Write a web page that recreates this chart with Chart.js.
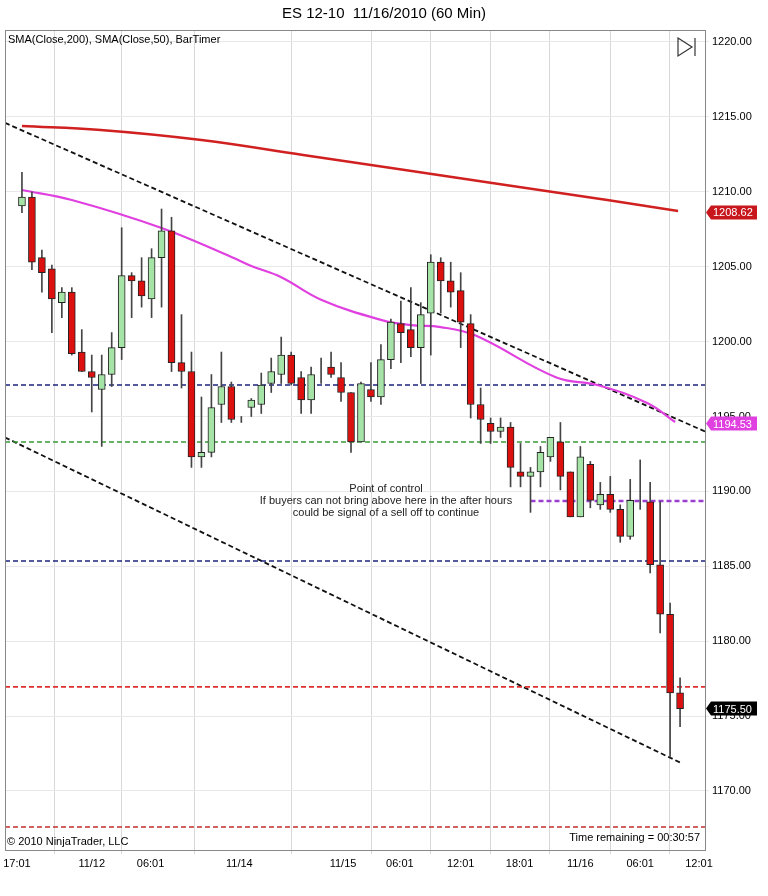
<!DOCTYPE html>
<html>
<head>
<meta charset="utf-8">
<script src="https://cdn.jsdelivr.net/npm/chart.js@4.4.0/dist/chart.umd.min.js"></script>
<style>
  html, body { margin: 0; padding: 0; background: #fff; }
  #wrap { width: 768px; height: 896px; }
</style>
</head>
<body>
<div id="wrap"><canvas id="chart" width="768" height="896"></canvas></div>
<script>
// candles: open, high, low, close (60 min bars, index = bar number)
const opens  = [1209.05,1209.65,1205.6,1204.85,1202.6,1203.3,1199.3,1198.0,1196.8,1197.8,1199.6,1204.4,1204.05,1202.85,1205.6,1207.4,1198.6,1198.0,1192.3,1192.6,1195.8,1197.0,
                1194.8,1195.6,1195.8,1197.2,1197.8,1199.1,1197.6,1196.1,1198.0,1198.3,1197.6,1196.6,1193.3,1196.8,1196.3,1198.8,1201.2,1200.8,1199.6,1201.9,1205.3,1204.05,1203.4,
                1201.2,1195.8,1194.55,1194.0,1194.3,1191.3,1191.0,1191.3,1192.3,1193.3,1191.3,1188.3,1191.8,1189.1,1189.8,1188.8,1187.0,1189.2,1189.3,1185.1,1181.8,1176.55];
const highs  = [1211.3,1210.0,1206.1,1205.1,1203.6,1203.6,1200.8,1199.1,1199.1,1200.6,1207.6,1204.6,1205.6,1206.2,1208.85,1208.3,1201.8,1199.3,1196.3,1197.8,1199.3,1197.3,
                1195.0,1196.2,1197.9,1198.9,1200.3,1199.3,1198.0,1198.3,1198.9,1199.3,1198.6,1196.6,1197.3,1198.6,1199.8,1201.5,1202.7,1203.6,1202.6,1205.8,1205.6,1205.3,1204.6,
                1201.8,1196.9,1194.9,1194.9,1194.6,1193.2,1191.6,1193.0,1193.6,1194.6,1191.3,1193.0,1192.0,1190.6,1191.0,1189.1,1190.8,1192.1,1190.6,1189.3,1182.55,1177.55];
const lows   = [1208.6,1204.8,1203.3,1200.6,1201.6,1199.1,1198.0,1195.3,1193.0,1197.0,1198.8,1201.6,1202.3,1201.6,1202.3,1198.0,1196.9,1191.6,1191.6,1192.3,1194.6,1194.6,
                1194.6,1195.0,1195.2,1196.6,1197.2,1197.1,1195.2,1195.2,1197.2,1197.6,1196.0,1192.6,1193.3,1196.0,1195.8,1198.2,1198.6,1199.0,1197.2,1199.1,1201.9,1202.3,1199.6,
                1194.9,1193.2,1193.2,1193.6,1190.3,1190.3,1188.6,1190.3,1192.0,1190.1,1188.3,1188.3,1188.9,1188.8,1188.6,1186.6,1186.8,1188.8,1184.55,1180.55,1172.3,1174.3];
const closes = [1209.65,1205.3,1204.6,1202.85,1203.3,1199.2,1198.0,1197.6,1197.8,1199.6,1204.4,1204.05,1203.05,1205.6,1207.4,1198.6,1198.0,1192.3,1192.6,1195.6,1197.0,1194.8,
                1194.8,1196.1,1197.1,1198.0,1199.1,1197.2,1196.1,1197.8,1198.0,1197.8,1196.6,1193.3,1197.2,1196.3,1198.8,1201.3,1200.6,1199.6,1201.8,1205.3,1204.05,1203.3,1201.3,
                1195.8,1194.8,1194.0,1194.3,1191.6,1191.0,1191.3,1192.6,1193.6,1191.0,1188.3,1192.3,1189.4,1189.8,1188.8,1187.0,1189.4,1189.2,1185.1,1181.8,1176.55,1175.5];

// moving averages: [bar index, price]
const sma200 = [[0,1214.39],[7.9,1214.13],[18,1213.46],[28.2,1212.46],[38.4,1211.46],[48.5,1210.45],[58.7,1209.45],[65.8,1208.72]];
const sma50  = [[0,1210.12],[5,1209.45],[14,1207.58],[21,1205.65],[23,1205.05],[26,1204.3],[30,1202.8],[36,1201.45],[39,1201.1],
                [42,1200.97],[45.5,1200.4],[53.6,1197.6],[57.7,1197.1],[62.7,1195.9],[65.5,1194.63]];

// time axis labels and their bar positions
const timeTicks  = [-0.5, 7.0, 12.9, 21.8, 32.2, 37.9, 44.0, 49.9, 56.0, 62.0, 67.9];
const timeLabels = ['17:01','11/12','06:01','11/14','11/15','06:01','12:01','18:01','11/16','06:01','12:01'];

// drawn levels
const levelBlue1 = 1197.1, levelGreen = 1193.3, levelBlue2 = 1185.35, levelRed1 = 1176.95, levelRed2 = 1167.6, levelPoc = 1189.35;
const trendTop = [[-1.7,1214.6],[68.5,1194.0]];
const trendLow = [[-1.7,1193.6],[66.0,1171.9]];

const idx = opens.map((_, i) => i);
const up = idx.map(i => closes[i] >= opens[i]);

const xy = arr => arr.map(p => ({x: p[0], y: p[1]}));
const hline = (v, x0, x1) => [{x: x0, y: v}, {x: x1, y: v}];
const dashed = (data, color, w) => ({type: 'line', data: data, borderColor: color, borderWidth: w || 1.6,
    borderDash: [5, 3], pointRadius: 0, fill: false, tension: 0, order: 5});

const overlay = {
    id: 'overlay',
    afterDraw(chart) {
        const c = chart.ctx, a = chart.chartArea, ys = chart.scales.y;
        c.save();
        c.strokeStyle = '#888'; c.lineWidth = 1;
        c.strokeRect(a.left + 0.5, a.top + 0.5, a.right - a.left, a.bottom - a.top);
        c.fillStyle = '#000';
        c.font = '15px "Liberation Sans", Arial';
        c.textAlign = 'center';
        c.fillText('ES 12-10  11/16/2010 (60 Min)', 384, 18);
        c.font = '11px "Liberation Sans", Arial';
        c.textAlign = 'left';
        c.fillText('SMA(Close,200), SMA(Close,50), BarTimer', a.left + 3, a.top + 13);
        c.fillText('\u00a9 2010 NinjaTrader, LLC', a.left + 2, a.bottom - 5);
        c.textAlign = 'right';
        c.fillText('Time remaining = 00:30:57', a.right - 5, a.bottom - 9);
        c.textAlign = 'center';
        c.fillStyle = '#222';
        c.fillText('Point of control', 386, 492);
        c.fillText('If buyers can not bring above here in the after hours', 386, 504);
        c.fillText('could be signal of a sell off to continue', 386, 516);
        // play/stop icon
        c.strokeStyle = '#333'; c.lineWidth = 1.2;
        c.beginPath(); c.moveTo(678, 38); c.lineTo(692, 47); c.lineTo(678, 56); c.closePath(); c.stroke();
        c.beginPath(); c.moveTo(695, 38); c.lineTo(695, 56); c.stroke();
        // price flags on right axis
        const flags = [[1208.62, '#c8161d'], [1194.53, '#e040e0'], [1175.50, '#000']];
        c.font = '11px "Liberation Sans", Arial';
        c.textAlign = 'left';
        flags.forEach(f => {
            const y = ys.getPixelForValue(f[0]);
            c.fillStyle = f[1];
            c.beginPath();
            c.moveTo(a.right + 1, y); c.lineTo(a.right + 6, y - 7); c.lineTo(a.right + 52, y - 7);
            c.lineTo(a.right + 52, y + 7); c.lineTo(a.right + 6, y + 7); c.closePath(); c.fill();
            c.fillStyle = '#fff';
            c.fillText(f[0].toFixed(2), a.right + 8, y + 4);
        });
        c.restore();
    }
};

new Chart(document.getElementById('chart'), {
    data: {
        datasets: [
            dashed(hline(levelBlue1, -1.7, 68.5), '#1a237e'),
            dashed(hline(levelGreen, -1.7, 68.5), '#3a9a3a'),
            dashed(hline(levelBlue2, -1.7, 68.5), '#1a237e'),
            dashed(hline(levelRed1, -1.7, 68.5), '#e03030'),
            dashed(hline(levelRed2, -1.7, 68.5), '#c03030'),
            dashed(hline(levelPoc, 51, 68.5), '#9a40d0', 2.5),
            dashed(xy(trendTop), '#111', 1.8),
            dashed(xy(trendLow), '#111', 1.8),
            {type: 'line', data: xy(sma200), borderColor: '#d02020', borderWidth: 2.5, pointRadius: 0, tension: 0.4, order: 4},
            {type: 'line', data: xy(sma50), borderColor: '#e040e0', borderWidth: 2.2, pointRadius: 0, tension: 0.4, order: 4},
            {type: 'bar', data: idx.map(i => ({x: i, y: [lows[i], highs[i]]})), backgroundColor: '#444',
             barThickness: 1, grouped: false, order: 3},
            {type: 'bar', data: idx.map(i => ({x: i, y: [opens[i], closes[i]]})),
             backgroundColor: idx.map(i => up[i] ? '#a6e3a6' : '#dd1010'), borderColor: '#222', borderWidth: 1,
             borderSkipped: false, barThickness: 7, grouped: false, order: 2}
        ]
    },
    options: {
        responsive: false,
        animation: false,
        layout: {padding: {top: 30, left: 5, right: 0, bottom: 0}},
        plugins: {legend: {display: false}, tooltip: {enabled: false}},
        scales: {
            x: {
                type: 'linear', min: -1.7, max: 68.5, offset: false,
                afterBuildTicks: s => { s.ticks = timeTicks.map(v => ({value: v})); },
                afterFit: s => { s.height = 46; },
                ticks: {callback: (v, i) => timeLabels[i], color: '#000', font: {size: 11, family: '"Liberation Sans", Arial'}, maxRotation: 0, autoSkip: false},
                grid: {color: '#d8d8d8', drawTicks: true, tickLength: 4},
                border: {color: '#888'}
            },
            y: {
                position: 'right', min: 1166.06, max: 1220.8,
                afterBuildTicks: s => { const t = []; for (let v = 1170; v <= 1220; v += 5) t.push({value: v}); s.ticks = t; },
                afterFit: s => { s.width = 63; },
                ticks: {callback: v => v.toFixed(2), color: '#000', font: {size: 11, family: '"Liberation Sans", Arial'}},
                grid: {color: '#e8e8e8', tickLength: 4},
                border: {color: '#888'}
            }
        }
    },
    plugins: [overlay]
});
</script>
</body>
</html>
